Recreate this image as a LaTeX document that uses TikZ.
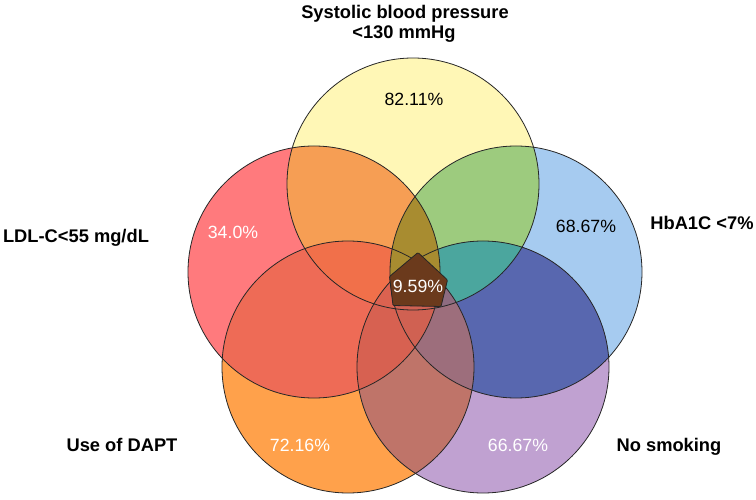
\documentclass[tikz,border=0pt]{standalone}
\usepackage{fontspec}
\setmainfont{Liberation Sans}
\definecolor{cY}{HTML}{FFF7B6}
\definecolor{cR}{HTML}{FF7A7D}
\definecolor{cB}{HTML}{A6CBF0}
\definecolor{cO}{HTML}{FFA14B}
\definecolor{cP}{HTML}{C0A1D1}
\definecolor{cYR}{HTML}{F69E54}
\definecolor{cYB}{HTML}{9DCB7E}
\definecolor{cRO}{HTML}{EE6B56}
\definecolor{cBP}{HTML}{5867AF}
\definecolor{cOP}{HTML}{BF7469}
\definecolor{cYRB}{HTML}{A88C30}
\definecolor{cYRO}{HTML}{F1704A}
\definecolor{cYBP}{HTML}{4BA69E}
\definecolor{cROP}{HTML}{D76151}
\definecolor{cBOP}{HTML}{9D6E7C}
\definecolor{cYROP}{HTML}{DB6250}
\definecolor{cYBOP}{HTML}{8E6C80}
\definecolor{cRBOP}{HTML}{D06152}
\definecolor{cAll}{HTML}{6B3A1C}
\begin{document}
\begin{tikzpicture}[x=1pt,y=-1pt,
  outl/.style={draw=black!85,line width=0.8pt},
  lbl/.style={font=\bfseries\fontsize{18.3}{22}\selectfont,anchor=base,inner sep=0pt},
  pct/.style={font=\fontsize{17.7}{21}\selectfont,anchor=base,inner sep=0pt}]
\useasboundingbox (0,0) rectangle (756,500);
\def\cY{(413,184) circle[radius=126pt]}
\def\cR{(314,272) circle[radius=126pt]}
\def\cB{(516,272) circle[radius=126pt]}
\def\cO{(348,367) circle[radius=126pt]}
\def\cP{(483,367) circle[radius=126pt]}
% singles
\fill[cY] \cY; \fill[cR] \cR; \fill[cB] \cB; \fill[cO] \cO; \fill[cP] \cP;
% pairs
\begin{scope}\clip \cY; \fill[cYR] \cR; \end{scope}
\begin{scope}\clip \cY; \fill[cYB] \cB; \end{scope}
\begin{scope}\clip \cR; \fill[cRO] \cO; \end{scope}
\begin{scope}\clip \cB; \fill[cBP] \cP; \end{scope}
\begin{scope}\clip \cO; \fill[cOP] \cP; \end{scope}
% triples
\begin{scope}\clip \cY; \clip \cR; \fill[cYRB] \cB; \end{scope}
\begin{scope}\clip \cY; \clip \cR; \fill[cYRO] \cO; \end{scope}
\begin{scope}\clip \cY; \clip \cB; \fill[cYBP] \cP; \end{scope}
\begin{scope}\clip \cR; \clip \cO; \fill[cROP] \cP; \end{scope}
\begin{scope}\clip \cB; \clip \cO; \fill[cBOP] \cP; \end{scope}
% quadruples
\begin{scope}\clip \cY; \clip \cR; \clip \cB; \fill[cYRB] \cO; \end{scope}
\begin{scope}\clip \cY; \clip \cR; \clip \cB; \fill[cYRB] \cP; \end{scope}
\begin{scope}\clip \cY; \clip \cR; \clip \cO; \fill[cYROP] \cP; \end{scope}
\begin{scope}\clip \cY; \clip \cB; \clip \cO; \fill[cYBOP] \cP; \end{scope}
\begin{scope}\clip \cR; \clip \cB; \clip \cO; \fill[cRBOP] \cP; \end{scope}
% outlines
\draw[outl] \cY; \draw[outl] \cR; \draw[outl] \cB; \draw[outl] \cO; \draw[outl] \cP;
% central five-way region
\coordinate (k1) at (418,252.5);
\coordinate (k2) at (389.5,276.5);
\coordinate (k3) at (393,305.5);
\coordinate (k4) at (441,306.5);
\coordinate (k5) at (447.5,280);
\filldraw[fill=cAll,outl,rounded corners=1pt] (k1) -- (k2) -- (k3) -- (k4) -- (k5) -- cycle;
% set labels
\node[lbl] (lsbp1) at (405,19) {Systolic blood pressure};
\node[lbl] (lsbp2) at (404,38.5) {<130 mmHg};
\node[lbl] (lldl) at (76,243) {LDL-C<55 mg/dL};
\node[lbl] (lhba) at (702,230) {HbA1C <7\%};
\node[lbl] (ldapt) at (122,451) {Use of DAPT};
\node[lbl] (lsmk) at (669,451) {No smoking};
% percentages
\node[pct] (pY) at (414,106) {82.11\%};
\node[pct,white] (pR) at (233,239) {34.0\%};
\node[pct] (pB) at (586,233) {68.67\%};
\node[pct,white] (pO) at (300,451) {72.16\%};
\node[pct,white] (pP) at (518,451) {66.67\%};
\node[pct,white] (pC) at (418,293) {9.59\%};
\end{tikzpicture}
\end{document}
